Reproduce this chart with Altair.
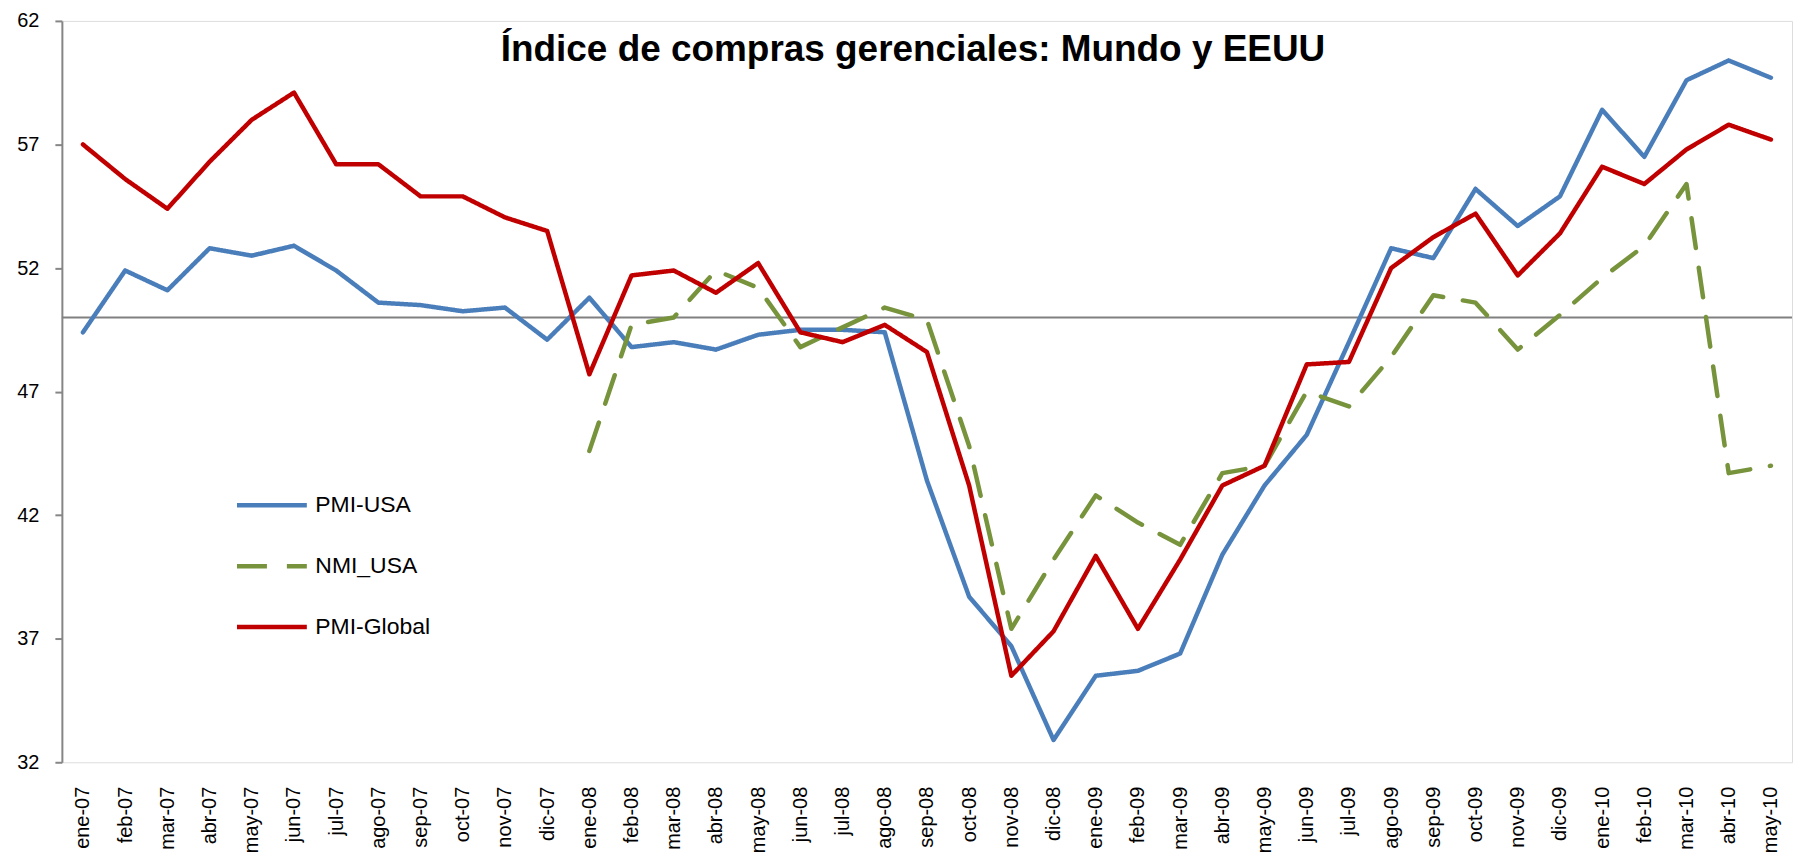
import altair as alt
import pandas as pd

months = ["ene-07","feb-07","mar-07","abr-07","may-07","jun-07","jul-07","ago-07","sep-07","oct-07","nov-07","dic-07",
          "ene-08","feb-08","mar-08","abr-08","may-08","jun-08","jul-08","ago-08","sep-08","oct-08","nov-08","dic-08",
          "ene-09","feb-09","mar-09","abr-09","may-09","jun-09","jul-09","ago-09","sep-09","oct-09","nov-09","dic-09",
          "ene-10","feb-10","mar-10","abr-10","may-10"]

pmi_usa = [49.4, 51.9, 51.1, 52.8, 52.5, 52.9, 51.9, 50.6, 50.5, 50.25, 50.4, 49.1,
           50.8, 48.8, 49.0, 48.7, 49.3, 49.5, 49.5, 49.4, 43.4, 38.7, 36.7, 32.9,
           35.5, 35.7, 36.4, 40.4, 43.2, 45.25, 49.0, 52.8, 52.4, 55.2, 53.7, 54.9,
           58.4, 56.5, 59.6, 60.4, 59.7]

nmi_usa = [None]*12 + [44.6, 49.7, 50.0, 51.9, 51.2, 48.8, 49.6, 50.4, 49.9, 44.8, 37.4, 40.2,
                       42.8, 41.7, 40.8, 43.7, 44.0, 47.0, 46.4, 48.4, 50.9, 50.6, 48.7, 50.1,
                       51.6, 52.9, 55.4, 43.7, 44.0]

pmi_global = [57.0, 55.6, 54.4, 56.3, 58.0, 59.1, 56.2, 56.2, 54.9, 54.9, 54.05, 53.5,
              47.7, 51.7, 51.9, 51.0, 52.2, 49.4, 49.0, 49.7, 48.6, 43.2, 35.5, 37.3,
              40.35, 37.4, 40.2, 43.2, 44.0, 48.1, 48.2, 52.0, 53.25, 54.2, 51.7, 53.4,
              56.1, 55.4, 56.8, 57.8, 57.2]

series_names = ["PMI-USA", "NMI_USA", "PMI-Global"]
series_colors = ["#4A7EBB", "#77933C", "#C00000"]
series_dash = [[1, 0], [30, 20], [1, 0]]
y_ticks = [32, 37, 42, 47, 52, 57, 62]
ref_level = 50
title_text = "Índice de compras gerenciales: Mundo y EEUU"

rows = []
for name, vals in zip(series_names, [pmi_usa, nmi_usa, pmi_global]):
    for m, v in zip(months, vals):
        if v is not None:
            rows.append({"mes": m, "valor": v, "serie": name})
df = pd.DataFrame(rows)

FONT = "Liberation Sans"

x_enc = alt.X("mes:N", sort=months,
              scale=alt.Scale(type="point", padding=0.5),
              axis=alt.Axis(title=None, labelAngle=-90, labelFontSize=20, labelFont=FONT,
                            labelColor="#000000", labelPadding=24, domain=False, ticks=False,
                            labelAlign="right", labelBaseline="middle"))
y_enc = alt.Y("valor:Q", scale=alt.Scale(domain=[32, 62], nice=False, zero=False),
              axis=alt.Axis(title=None, values=y_ticks, grid=False, labelFontSize=20, labelFont=FONT,
                            labelColor="#000000", domainColor="#868686", domainWidth=2,
                            tickColor="#868686", tickWidth=2, tickSize=7, labelPadding=16))
color_enc = alt.Color("serie:N",
                      scale=alt.Scale(domain=series_names, range=series_colors),
                      legend=alt.Legend(title=None, orient="none", legendX=173, legendY=448,
                                        symbolType="stroke", symbolSize=4900, symbolStrokeWidth=4.5,
                                        labelFontSize=23, labelFont=FONT, labelColor="#000000",
                                        labelOffset=6, rowPadding=11, padding=0))
dash_enc = alt.StrokeDash("serie:N",
                          scale=alt.Scale(domain=series_names, range=series_dash),
                          legend=None)

base = alt.Chart(df)
lines = []
for name in series_names:
    lines.append(
        base.transform_filter(alt.datum.serie == name)
        .mark_line(strokeWidth=4.5, strokeCap="round", strokeJoin="round")
        .encode(x=x_enc, y=y_enc, color=color_enc, strokeDash=dash_enc)
    )

rule = alt.Chart(pd.DataFrame({"v": [ref_level]})).mark_rule(color="#808080", strokeWidth=2).encode(
    y=alt.Y("v:Q", scale=alt.Scale(domain=[32, 62], nice=False, zero=False))
)

title = alt.Chart(pd.DataFrame({"t": [title_text]})).mark_text(
    font=FONT, fontSize=37, fontWeight="bold", color="#000000", align="center", baseline="alphabetic"
).encode(text="t:N", x=alt.value(853), y=alt.value(40))

chart = alt.layer(rule, *lines, title).properties(
    width=1734, height=743,
    autosize=alt.AutoSizeParams(type="none"),
    padding={"left": 54, "top": 12, "right": 5, "bottom": 94},
).configure_view(stroke=None).configure(background="#ffffff")

chart.save("out.html", embed_options={"renderer": "svg", "actions": False})
